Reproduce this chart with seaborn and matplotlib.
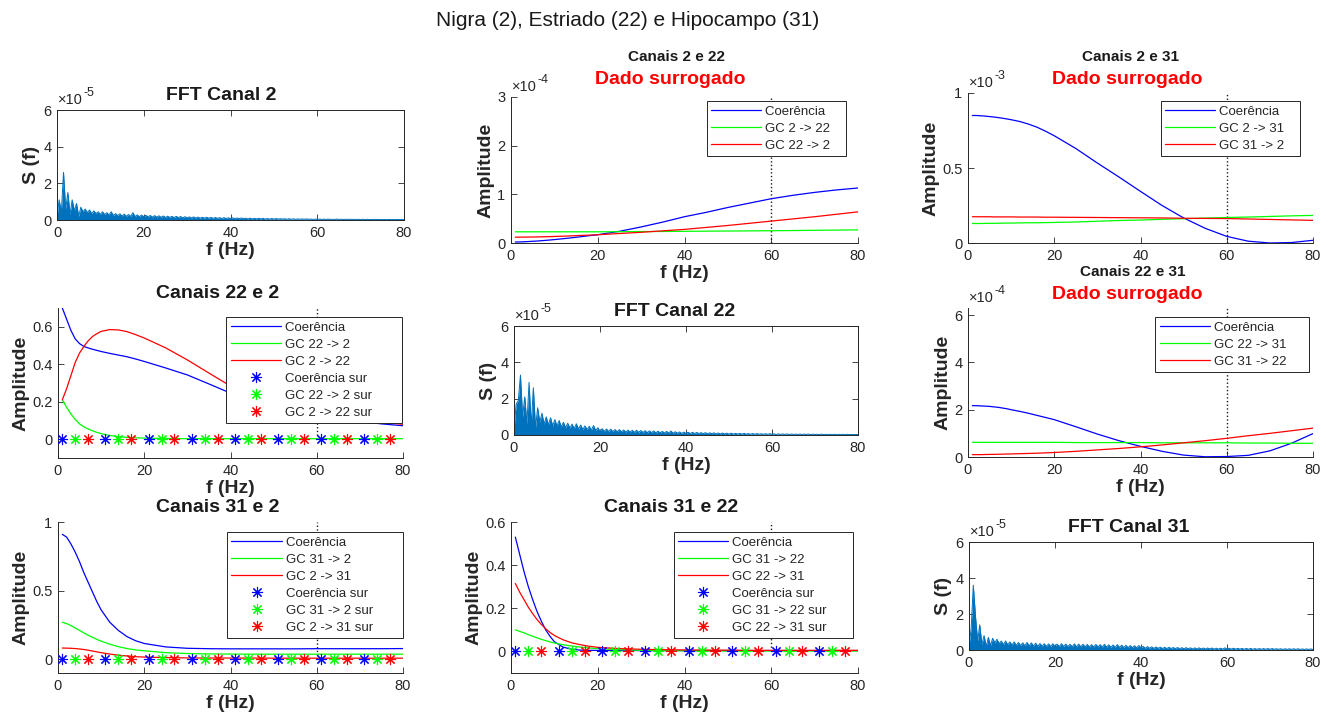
import numpy as np
import pandas as pd
import matplotlib
matplotlib.use("Agg")
import matplotlib.pyplot as plt
import seaborn as sns

# ---------------- dados ----------------
# espectros FFT (unidades de 1e-5), amostrados a cada 0.5 Hz de 0 a 80 Hz
freq_fft = np.arange(0, 80.5, 0.5)

fft_canal2 = [
    0.2, 1.1, 0.4, 2.6, 0.6, 1.5, 0.3, 1.1, 0.5, 0.9, 0.2,
    0.7, 0.45, 0.6, 0.4, 0.55, 0.35, 0.5, 0.35, 0.45, 0.3,
    0.45, 0.3, 0.4, 0.28, 0.45, 0.25, 0.35, 0.24, 0.34, 0.22,
    0.32, 0.2, 0.3, 0.2, 0.4, 0.19, 0.28, 0.18, 0.27, 0.18,
    0.26, 0.17, 0.25, 0.16, 0.24, 0.16, 0.23, 0.15, 0.22, 0.14,
    0.21, 0.14, 0.2, 0.13, 0.2, 0.13, 0.19, 0.12, 0.18, 0.12,
    0.17, 0.11, 0.17, 0.11, 0.16, 0.1, 0.15, 0.1, 0.15, 0.1,
    0.14, 0.09, 0.14, 0.09, 0.13, 0.08, 0.13, 0.08, 0.12, 0.08,
    0.12, 0.07, 0.11, 0.07, 0.11, 0.07, 0.1, 0.06, 0.1, 0.06,
    0.09, 0.06, 0.09, 0.06, 0.09, 0.05, 0.08, 0.05, 0.08, 0.05,
    0.08, 0.05, 0.07, 0.05, 0.07, 0.04, 0.07, 0.04, 0.06, 0.04,
    0.06, 0.04, 0.06, 0.04, 0.06, 0.04, 0.05, 0.03, 0.05, 0.03,
    0.05, 0.03, 0.05, 0.03, 0.05, 0.03, 0.04, 0.03, 0.05, 0.03,
    0.04, 0.03, 0.04, 0.03, 0.04, 0.03, 0.04, 0.02, 0.04, 0.02,
    0.04, 0.02, 0.04, 0.02, 0.03, 0.02, 0.04, 0.02, 0.03, 0.02,
    0.03, 0.02, 0.03, 0.02, 0.03, 0.02, 0.03, 0.02, 0.03, 0.02,
]

fft_canal22 = [
    0.3, 1.7, 1.9, 3.3, 1.0, 2.1, 0.6, 2.9, 0.5, 2.6, 0.4,
    1.5, 0.7, 1.2, 0.6, 1.0, 0.55, 0.95, 0.5, 0.85, 0.5,
    0.8, 0.45, 0.7, 0.4, 0.65, 0.38, 0.6, 0.35, 0.62, 0.32,
    0.55, 0.3, 0.5, 0.3, 0.48, 0.27, 0.52, 0.25, 0.4, 0.22,
    0.35, 0.2, 0.33, 0.2, 0.32, 0.19, 0.3, 0.18, 0.3, 0.17,
    0.28, 0.16, 0.27, 0.16, 0.26, 0.15, 0.26, 0.15, 0.25, 0.14,
    0.24, 0.13, 0.23, 0.13, 0.22, 0.12, 0.21, 0.12, 0.2, 0.11,
    0.2, 0.11, 0.22, 0.1, 0.18, 0.1, 0.17, 0.09, 0.16, 0.09,
    0.15, 0.08, 0.15, 0.08, 0.14, 0.08, 0.13, 0.07, 0.13, 0.07,
    0.12, 0.07, 0.12, 0.06, 0.11, 0.06, 0.11, 0.06, 0.1, 0.05,
    0.1, 0.05, 0.09, 0.05, 0.09, 0.05, 0.09, 0.05, 0.08, 0.04,
    0.08, 0.04, 0.08, 0.04, 0.07, 0.04, 0.07, 0.04, 0.07, 0.04,
    0.06, 0.03, 0.06, 0.03, 0.06, 0.03, 0.06, 0.03, 0.05, 0.03,
    0.05, 0.03, 0.05, 0.03, 0.05, 0.03, 0.05, 0.02, 0.05, 0.02,
    0.04, 0.02, 0.05, 0.02, 0.04, 0.02, 0.04, 0.02, 0.04, 0.02,
    0.04, 0.02, 0.04, 0.02, 0.04, 0.02, 0.03, 0.02, 0.03, 0.02,
]

fft_canal31 = [
    0.2, 1.2, 3.6, 1.9, 0.5, 1.4, 0.3, 0.8, 0.2, 0.7, 0.25,
    0.65, 0.4, 0.6, 0.35, 0.5, 0.3, 0.5, 0.3, 0.45, 0.28,
    0.45, 0.26, 0.42, 0.25, 0.4, 0.24, 0.42, 0.23, 0.4, 0.22,
    0.38, 0.21, 0.36, 0.21, 0.35, 0.2, 0.34, 0.2, 0.35, 0.2,
    0.33, 0.19, 0.35, 0.19, 0.33, 0.19, 0.32, 0.18, 0.34, 0.18,
    0.33, 0.18, 0.32, 0.18, 0.31, 0.17, 0.3, 0.17, 0.31, 0.17,
    0.3, 0.16, 0.32, 0.16, 0.29, 0.15, 0.28, 0.15, 0.3, 0.14,
    0.27, 0.14, 0.26, 0.13, 0.25, 0.13, 0.24, 0.12, 0.25, 0.11,
    0.2, 0.1, 0.19, 0.1, 0.18, 0.09, 0.17, 0.09, 0.16, 0.08,
    0.15, 0.08, 0.15, 0.08, 0.14, 0.07, 0.14, 0.07, 0.13, 0.07,
    0.13, 0.07, 0.12, 0.06, 0.12, 0.06, 0.12, 0.06, 0.11, 0.06,
    0.11, 0.06, 0.11, 0.05, 0.1, 0.05, 0.1, 0.05, 0.12, 0.05,
    0.1, 0.05, 0.1, 0.05, 0.09, 0.05, 0.09, 0.04, 0.09, 0.04,
    0.09, 0.04, 0.08, 0.04, 0.08, 0.04, 0.08, 0.04, 0.08, 0.04,
    0.08, 0.04, 0.07, 0.04, 0.07, 0.03, 0.07, 0.03, 0.07, 0.03,
    0.07, 0.03, 0.07, 0.03, 0.06, 0.03, 0.06, 0.03, 0.06, 0.03,
]

# frequências das curvas de coerência / causalidade de Granger
freq_coh = [1, 2, 3, 4, 5, 6, 7, 8, 9, 10, 12, 14, 16, 18, 20,
            25, 30, 35, 40, 45, 50, 55, 60, 65, 70, 75, 80]

# Canais 22 e 2
coh_22_2 = [0.70, 0.64, 0.58, 0.535, 0.51, 0.495, 0.487, 0.48, 0.474, 0.468, 0.458, 0.449, 0.44, 0.428, 0.415,
            0.38, 0.343, 0.295, 0.246, 0.21, 0.18, 0.155, 0.13, 0.11, 0.095, 0.082, 0.072]
gc_22_to_2 = [0.21, 0.17, 0.135, 0.105, 0.082, 0.066, 0.055, 0.045, 0.037, 0.03, 0.02, 0.014, 0.01, 0.008, 0.006,
              0.004, 0.003, 0.003, 0.003, 0.003, 0.003, 0.003, 0.003, 0.003, 0.003, 0.003, 0.003]
gc_2_to_22 = [0.21, 0.27, 0.34, 0.41, 0.46, 0.495, 0.525, 0.548, 0.563, 0.575, 0.585, 0.583, 0.574, 0.558, 0.54,
              0.487, 0.423, 0.353, 0.284, 0.235, 0.195, 0.165, 0.14, 0.12, 0.105, 0.09, 0.08]

# Canais 31 e 2
coh_31_2 = [0.91, 0.89, 0.84, 0.78, 0.71, 0.63, 0.56, 0.49, 0.42, 0.36, 0.27, 0.21, 0.165, 0.135, 0.115,
            0.09, 0.08, 0.077, 0.076, 0.076, 0.076, 0.076, 0.077, 0.077, 0.077, 0.077, 0.078]
gc_31_to_2 = [0.27, 0.26, 0.245, 0.228, 0.21, 0.192, 0.175, 0.16, 0.145, 0.132, 0.11, 0.092, 0.078, 0.068, 0.062,
              0.048, 0.042, 0.039, 0.038, 0.037, 0.037, 0.037, 0.037, 0.037, 0.037, 0.037, 0.037]
gc_2_to_31 = [0.082, 0.081, 0.08, 0.078, 0.075, 0.071, 0.066, 0.06, 0.054, 0.048, 0.038, 0.03, 0.024, 0.019, 0.016,
              0.012, 0.01, 0.009, 0.009, 0.009, 0.008, 0.008, 0.008, 0.008, 0.008, 0.008, 0.008]

# Canais 31 e 22
coh_31_22 = [0.53, 0.45, 0.37, 0.30, 0.24, 0.185, 0.14, 0.10, 0.07, 0.045, 0.02, 0.01, 0.006, 0.005, 0.005,
             0.004, 0.004, 0.004, 0.004, 0.004, 0.004, 0.004, 0.004, 0.004, 0.004, 0.004, 0.004]
gc_31_to_22 = [0.1, 0.093, 0.086, 0.078, 0.07, 0.063, 0.056, 0.05, 0.044, 0.039, 0.031, 0.025, 0.02, 0.016, 0.013,
               0.008, 0.005, 0.004, 0.003, 0.002, 0.002, 0.002, 0.002, 0.002, 0.002, 0.002, 0.002]
gc_22_to_31 = [0.315, 0.275, 0.24, 0.205, 0.175, 0.148, 0.125, 0.105, 0.088, 0.074, 0.054, 0.04, 0.031, 0.024, 0.019,
               0.013, 0.01, 0.008, 0.007, 0.006, 0.006, 0.005, 0.005, 0.005, 0.005, 0.005, 0.005]

# dados surrogados: Canais 2 e 22 (unidades de 1e-4)
coh_2_22 = [0.02, 0.022, 0.025, 0.03, 0.035, 0.04, 0.047, 0.054, 0.062, 0.07, 0.088, 0.107, 0.128, 0.15, 0.17,
            0.24, 0.33, 0.43, 0.54, 0.63, 0.73, 0.82, 0.91, 0.98, 1.04, 1.09, 1.13]
gc_s_2_to_22 = [0.23, 0.23, 0.23, 0.23, 0.23, 0.23, 0.23, 0.23, 0.23, 0.23, 0.23, 0.23, 0.23, 0.23, 0.23,
                0.232, 0.235, 0.237, 0.24, 0.243, 0.246, 0.249, 0.252, 0.256, 0.261, 0.265, 0.27]
gc_s_22_to_2 = [0.12, 0.12, 0.121, 0.122, 0.123, 0.125, 0.127, 0.129, 0.131, 0.134, 0.14, 0.147, 0.155, 0.162, 0.17,
                0.195, 0.22, 0.25, 0.28, 0.32, 0.36, 0.405, 0.45, 0.495, 0.54, 0.59, 0.64]

# dados surrogados: Canais 2 e 31 (unidades de 1e-3)
coh_2_31 = [0.85, 0.85, 0.848, 0.846, 0.843, 0.84, 0.836, 0.832, 0.827, 0.822, 0.81, 0.793, 0.772, 0.745, 0.715,
            0.63, 0.533, 0.44, 0.344, 0.25, 0.167, 0.098, 0.044, 0.012, 0.0, 0.003, 0.018]
gc_s_2_to_31 = [0.13, 0.13, 0.13, 0.131, 0.131, 0.131, 0.132, 0.132, 0.133, 0.133, 0.134, 0.135, 0.135, 0.136, 0.137,
                0.14, 0.145, 0.15, 0.153, 0.158, 0.162, 0.166, 0.17, 0.173, 0.177, 0.181, 0.184]
gc_s_31_to_2 = [0.175, 0.175, 0.175, 0.175, 0.175, 0.174, 0.174, 0.174, 0.174, 0.174, 0.173, 0.173, 0.173, 0.172, 0.172,
                0.171, 0.17, 0.169, 0.168, 0.167, 0.165, 0.164, 0.163, 0.16, 0.157, 0.154, 0.151]

# dados surrogados: Canais 22 e 31 (unidades de 1e-4)
coh_22_31 = [2.17, 2.17, 2.16, 2.15, 2.14, 2.12, 2.1, 2.07, 2.04, 2.0, 1.93, 1.85, 1.76, 1.67, 1.58,
             1.28, 0.97, 0.69, 0.45, 0.24, 0.08, 0.01, 0.02, 0.07, 0.26, 0.58, 0.99]
gc_s_22_to_31 = [0.62, 0.62, 0.62, 0.62, 0.62, 0.62, 0.62, 0.62, 0.62, 0.62, 0.62, 0.62, 0.62, 0.62, 0.62,
                 0.61, 0.61, 0.61, 0.61, 0.6, 0.6, 0.6, 0.6, 0.59, 0.59, 0.58, 0.58]
gc_s_31_to_22 = [0.1, 0.1, 0.1, 0.105, 0.11, 0.11, 0.115, 0.12, 0.125, 0.13, 0.14, 0.15, 0.16, 0.175, 0.19,
                 0.24, 0.3, 0.36, 0.43, 0.51, 0.6, 0.69, 0.79, 0.9, 1.0, 1.11, 1.22]

# marcadores dos dados surrogados (todos em ~0)
sur_freq_coh = [1, 11, 21, 31, 41, 51, 61, 71]
sur_freq_gc_a = [4, 14, 24, 34, 44, 54, 64, 74]
sur_freq_gc_b = [7, 17, 27, 37, 47, 57, 67, 77]
sur_valores = [0, 0, 0, 0, 0, 0, 0, 0]

# ---------------- estilo ----------------
sns.set_theme(style="white")
plt.rcParams["font.family"] = ["Liberation Sans", "DejaVu Sans"]
CINZA = "#262626"
AZUL, VERDE, VERMELHO = "#0000ff", "#00ff00", "#ff0000"
ASTERISCO = (8, 2, 0)

W, H = 1331, 721
fig = plt.figure(figsize=(W / 100, H / 100), dpi=100)


def eixo(l, t, r, b):
    return fig.add_axes([l / W, 1 - b / H, (r - l) / W, (b - t) / H])


def texto_px(x, y, s, fundo=0, **kw):
    t = fig.text(x / W, 1 - y / H, s, ha="center", va="center", zorder=10, **kw)
    if fundo:
        # como no MATLAB, o título cobre o rótulo do eixo de cima
        t.set_bbox(dict(facecolor="white", edgecolor="none", pad=fundo))
    return t


def estilo_eixo(ax, ylim, yticks, caixa=False):
    ax.set_xlim(0, 80)
    ax.set_ylim(*ylim)
    ax.set_xticks([0, 20, 40, 60, 80])
    ax.set_yticks(yticks)
    ax.set_yticklabels([f"{v:g}" for v in yticks])
    ax.tick_params(direction="in", length=4, width=0.6, colors=CINZA, labelsize=10.5,
                   top=caixa, right=caixa, bottom=True, left=True, pad=4)
    for lado, sp in ax.spines.items():
        sp.set_color(CINZA)
        sp.set_linewidth(0.7)
        if not caixa and lado in ("top", "right"):
            sp.set_visible(False)
    ax.set_xlabel("f (Hz)", fontsize=14, fontweight="bold", color=CINZA, labelpad=2)
    ax.grid(False)


def expoente(ax, exp):
    ax.annotate("×10", xy=(0, 1), xycoords="axes fraction", xytext=(1, 2),
                textcoords="offset points", ha="left", va="bottom", fontsize=10.5, color=CINZA)
    ax.annotate(exp, xy=(0, 1), xycoords="axes fraction", xytext=(19, 8),
                textcoords="offset points", ha="left", va="bottom", fontsize=9, color=CINZA)


def painel_fft(ax, valores):
    df = pd.DataFrame({"f": freq_fft, "S": valores})
    sns.lineplot(data=df, x="f", y="S", ax=ax, color="#0072BD", lw=0.7,
                 estimator=None, sort=False)
    ax.fill_between(df["f"], 0, df["S"], color="#0072BD", lw=0)
    estilo_eixo(ax, (0, 6), [0, 2, 4, 6], caixa=True)
    ax.set_ylabel("S (f)", fontsize=14, fontweight="bold", color=CINZA, labelpad=2)
    expoente(ax, "-5")


def painel_coer(ax, series, rotulos, ylim, yticks, ancora, espacos, sur_rotulos=None):
    for valores, cor in zip(series, [AZUL, VERDE, VERMELHO]):
        sns.lineplot(x=freq_coh, y=valores, ax=ax, color=cor, lw=0.9,
                     estimator=None, sort=False)
    ax.axvline(60, ymin=(0 - ylim[0]) / (ylim[1] - ylim[0]), ymax=1.0,
               color="k", ls=":", lw=1.0, zorder=1)
    handles = [plt.Line2D([], [], color=c, lw=0.9) for c in (AZUL, VERDE, VERMELHO)]
    labels = list(rotulos)
    if sur_rotulos is not None:
        for xs, cor in zip([sur_freq_coh, sur_freq_gc_a, sur_freq_gc_b], [AZUL, VERDE, VERMELHO]):
            sns.lineplot(x=xs, y=sur_valores, ax=ax, color=cor, lw=0, marker=ASTERISCO,
                         markersize=8, markeredgewidth=0.8, markeredgecolor=cor,
                         estimator=None, sort=False, zorder=4)
            handles.append(plt.Line2D([], [], color=cor, lw=0, marker=ASTERISCO,
                                      markersize=8, markeredgewidth=0.8))
        labels += list(sur_rotulos)
    # o MATLAB deixa uma margem maior à direita da legenda
    labels = [r + " " * espacos for r in labels]
    estilo_eixo(ax, ylim, yticks)
    ax.set_ylabel("Amplitude", fontsize=14, fontweight="bold", color=CINZA, labelpad=2)
    leg = ax.legend(handles, labels, loc="upper right", bbox_to_anchor=ancora,
                    borderaxespad=0, fontsize=9.5, handlelength=3.8, handletextpad=0.3,
                    labelspacing=0.36, borderpad=0.35, fancybox=False, framealpha=1,
                    edgecolor=CINZA)
    leg.get_frame().set_linewidth(0.7)
    leg.set_zorder(5)


# ---------------- linha 1 ----------------
ax = eixo(57, 110, 404, 220)
painel_fft(ax, fft_canal2)
texto_px(221, 95, "FFT Canal 2", fontsize=14, fontweight="bold", color="k")

ax = eixo(511, 97, 858, 243)
painel_coer(ax, [coh_2_22, gc_s_2_to_22, gc_s_22_to_2],
            ["Coerência", "GC 2 -> 22", "GC 22 -> 2"], (0, 3), [0, 1, 2, 3], (0.965, 0.973), 3)
expoente(ax, "-4")
texto_px(676, 57, "Canais 2 e 22", fontsize=11, fontweight="bold", color="k")
texto_px(670, 79, "Dado surrogado", fontsize=14, fontweight="bold", color="#ff0000")

ax = eixo(968, 93, 1313, 243)
painel_coer(ax, [coh_2_31, gc_s_2_to_31, gc_s_31_to_2],
            ["Coerência", "GC 2 -> 31", "GC 31 -> 2"], (0, 1), [0, 0.5, 1], (0.962, 0.947), 3)
expoente(ax, "-3")
texto_px(1131, 57, "Canais 2 e 31", fontsize=11, fontweight="bold", color="k")
texto_px(1127, 79, "Dado surrogado", fontsize=14, fontweight="bold", color="#ff0000")

# ---------------- linha 2 ----------------
ax = eixo(58, 308, 403, 458)
painel_coer(ax, [coh_22_2, gc_22_to_2, gc_2_to_22],
            ["Coerência", "GC 22 -> 2", "GC 2 -> 22"], (-0.1, 0.7), [0, 0.2, 0.4, 0.6], (0.997, 0.94), 7,
            sur_rotulos=["Coerência sur", "GC 22 -> 2 sur", "GC 2 -> 22 sur"])
texto_px(218, 293, "Canais 22 e 2", fontsize=14, fontweight="bold", color="k")

ax = eixo(514, 326, 858, 435)
painel_fft(ax, fft_canal22)
texto_px(675, 311, "FFT Canal 22", fontsize=14, fontweight="bold", color="k")

ax = eixo(968, 308, 1313, 457)
painel_coer(ax, [coh_22_31, gc_s_22_to_31, gc_s_31_to_22],
            ["Coerência", "GC 22 -> 31", "GC 31 -> 22"], (0, 6.3), [0, 2, 4, 6], (0.988, 0.94), 5)
expoente(ax, "-4")
texto_px(1133, 272, "Canais 22 e 31", fundo=3.5, fontsize=11, fontweight="bold", color="k")
texto_px(1127, 294, "Dado surrogado", fontsize=14, fontweight="bold", color="#ff0000")

# ---------------- linha 3 ----------------
ax = eixo(58, 522, 403, 673)
painel_coer(ax, [coh_31_2, gc_31_to_2, gc_2_to_31],
            ["Coerência", "GC 31 -> 2", "GC 2 -> 31"], (-0.1, 1), [0, 0.5, 1], (0.999, 0.934), 7,
            sur_rotulos=["Coerência sur", "GC 31 -> 2 sur", "GC 2 -> 31 sur"])
texto_px(218, 507, "Canais 31 e 2", fundo=1, fontsize=14, fontweight="bold", color="k")

ax = eixo(511, 522, 858, 673)
painel_coer(ax, [coh_31_22, gc_31_to_22, gc_22_to_31],
            ["Coerência", "GC 31 -> 22", "GC 22 -> 31"], (-0.1, 0.6), [0, 0.2, 0.4, 0.6], (0.986, 0.934), 6,
            sur_rotulos=["Coerência sur", "GC 31 -> 22 sur", "GC 22 -> 31 sur"])
texto_px(671, 507, "Canais 31 e 22", fontsize=14, fontweight="bold", color="k")

ax = eixo(969, 542, 1313, 650)
painel_fft(ax, fft_canal31)
texto_px(1129, 527, "FFT Canal 31", fontsize=14, fontweight="bold", color="k")

texto_px(628, 20, "Nigra (2), Estriado (22) e Hipocampo (31)", fontsize=15, color="k")

fig.savefig("out.png", dpi=100)
